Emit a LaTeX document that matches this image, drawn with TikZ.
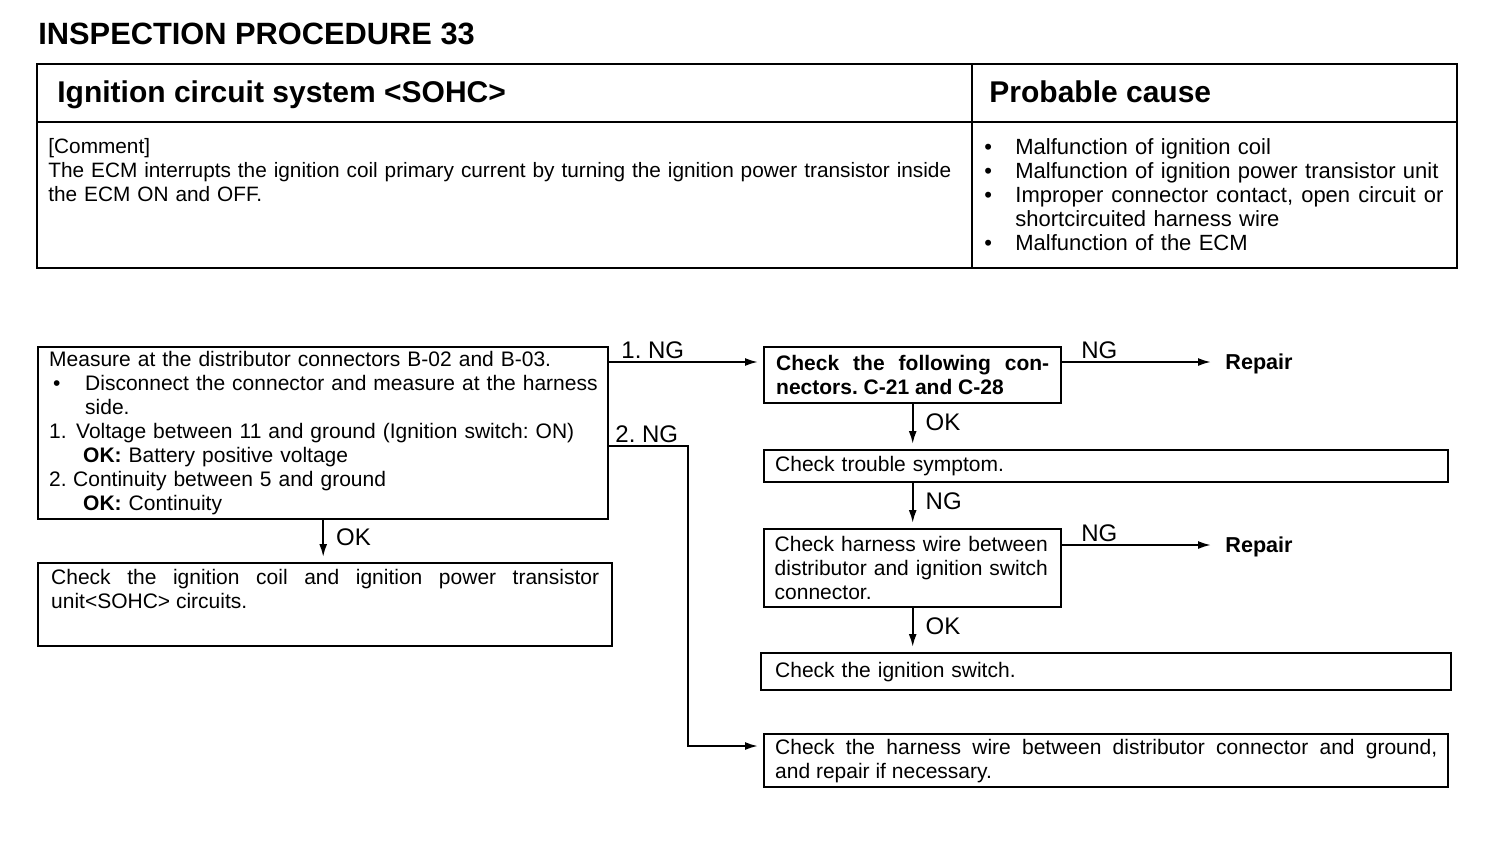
\documentclass[tikz,border=0pt]{standalone}
\usepackage{fontspec}
\setmainfont{Liberation Sans}
\usepackage{tikz}
\usetikzlibrary{
  arrows.meta,
  positioning
}
\definecolor{inkcolor}{RGB}{0, 0, 0}
\definecolor{papercolor}{RGB}{255, 255, 255}
\newcommand{\flowfont}{\fontsize{10.5}{12}\selectfont}
\newcommand{\notefont}{\fontsize{10.4}{12}\selectfont}
\newcommand{\causefont}{\fontsize{11}{12}\selectfont}
\newcommand{\causeitem}{\makebox[15.5pt][l]{\textbullet}}
\frenchspacing
\hyphenpenalty=10000
\tikzset{
titletext/.style={
  font=\fontsize{15.4}{18}\selectfont\bfseries,
  text=inkcolor,
  inner sep=0pt
},
headtext/.style={
  font=\fontsize{15}{18}\selectfont\bfseries,
  text=inkcolor,
  anchor=base west,
  inner sep=0pt
},
tableline/.style={
  draw=inkcolor,
  line width=1.4pt
},
notetext/.style={
  font=\notefont,
  text=inkcolor,
  align=left,
  inner sep=0pt
},
causetext/.style={
  font=\causefont,
  text=inkcolor,
  align=left,
  inner sep=0pt
},
flowbox/.style={
  draw=inkcolor,
  line width=1.2pt,
  anchor=north west,
  inner xsep=5.5pt,
  inner ysep=0pt,
  font=\flowfont,
  text=inkcolor,
  align=left
},
flowlabel/.style={
  font=\fontsize{12}{14}\selectfont,
  text=inkcolor,
  inner sep=1pt
},
repairtext/.style={
  font=\fontsize{10.8}{12}\selectfont\bfseries,
  text=inkcolor,
  anchor=west,
  text height=7.8pt,
  text depth=0pt,
  inner sep=0pt
},
flowarrow/.style={
  -{Latex[length=6.5pt,width=4pt]},
  line width=1pt,
  draw=inkcolor,
  shorten >=2.5pt
}
}

\begin{document}
\begin{tikzpicture}[x=0.5pt, y=-0.5pt]
  \fill[papercolor] (0,0) rectangle (1504,858);
  \useasboundingbox (0,0) rectangle (1504,858);

  \node[titletext, anchor=west] (proctitle) at (38,34) {INSPECTION PROCEDURE 33};

  % header table
  \draw[tableline] (37,64) rectangle (1457,268);
  \draw[tableline] (972,64) -- (972,268);
  \draw[tableline] (37,122) -- (1457,122);
  \node[headtext] (systitle) at (57,102) {Ignition circuit system <SOHC>};
  \node[headtext] (causetitle) at (989,102) {Probable cause};
  \node[notetext, anchor=north west, text width=462pt] (comment) at (48,138) {
    [Comment]\\
    The ECM interrupts the ignition coil primary current by turning the ignition power transistor inside\\
    the ECM ON and OFF.};
  \node[causetext, anchor=north west, text width=230pt] (causes) at (984,138) {
    \causeitem Malfunction of ignition coil\\
    \causeitem Malfunction of ignition power transistor unit\\
    \causeitem\hbox to 214pt{Improper\hfill connector\hfill contact,\hfill open\hfill circuit\hfill or}\\
    \hspace*{15.5pt}shortcircuited harness wire\\
    \causeitem Malfunction of the ECM};

  % flow chart boxes
  \node[flowbox, text width=274pt, minimum height=86pt] (measure) at (37,346) {
    Measure at the distributor connectors B-02 and B-03.\\
    \mbox{\makebox[18pt][l]{\hspace{2pt}\textbullet}Disconnect the connector and measure at the harness}\\
    \hspace*{18pt}side.\\
    \makebox[13.5pt][l]{1.}Voltage between 11 and ground (Ignition switch: ON)\\
    \hspace*{17pt}\textbf{OK:} Battery positive voltage\\
    \makebox[12pt][l]{2.}Continuity between 5 and ground\\
    \hspace*{17pt}\textbf{OK:} Continuity};
  \node[flowbox, text width=274pt, inner xsep=6.5pt, minimum height=41.5pt, align=justify] (coilcheck) at (37,562) {
    Check the ignition coil and ignition power transistor\linebreak
    unit<SOHC> circuits.\\\strut};
  \node[flowbox, text width=136.5pt, inner xsep=6pt, minimum height=28pt, align=justify,
    font=\flowfont\bfseries] (chkconn) at (763,346) {
    Check the following con-\linebreak nectors. C-21 and C-28};
  \node[flowbox, text width=331pt, minimum height=16pt] (symptom) at (763,449) {Check trouble symptom.};
  \node[flowbox, text width=138pt, inner xsep=5.25pt, minimum height=39pt] (harnessign) at (763,528) {
    Check harness wire between\\
    distributor and ignition switch\\
    connector.};
  \node[flowbox, text width=331pt, inner xsep=7pt, minimum height=18.5pt] (ignswitch) at (760,652) {Check the ignition switch.};
  \node[flowbox, text width=331pt, minimum height=26.5pt, align=justify] (harnessgnd) at (763,733) {
    Check the harness wire between distributor connector and ground,\linebreak
    and repair if necessary.};
  \node[repairtext] (repairone) at (1225,362) {Repair};
  \node[repairtext] (repairtwo) at (1225,545) {Repair};

  % connectors
  \draw[flowarrow] ([yshift=-8pt]measure.north east)
    -- node[flowlabel, above right, pos=0, xshift=4.5pt] (lblngone) {1. NG}
    ([yshift=-8pt]chkconn.north west);
  \draw[flowarrow] ([yshift=-50pt]measure.north east)
    -- node[flowlabel, above right, pos=0, xshift=1.5pt] (lblngtwo) {2. NG}
    ++(39.5pt,0) |- ([yshift=-6.5pt]harnessgnd.north west);
  \draw[flowarrow] (measure.south)
    -- node[flowlabel, right, pos=0.4, xshift=5pt] (lblokone) {OK}
    (measure.south |- coilcheck.north);
  \draw[flowarrow] (chkconn.south)
    -- node[flowlabel, right, pos=0.4, xshift=5pt] (lbloktwo) {OK}
    (chkconn.south |- symptom.north);
  \draw[flowarrow] (harnessign.north |- symptom.south)
    -- node[flowlabel, right, pos=0.4, xshift=5pt] (lblngthree) {NG}
    (harnessign.north);
  \draw[flowarrow] (harnessign.south)
    -- node[flowlabel, right, pos=0.4, xshift=5pt] (lblokthree) {OK}
    (harnessign.south |- ignswitch.north);
  \draw[flowarrow, shorten >=7pt] ([yshift=-8pt]chkconn.north east)
    -- node[flowlabel, above right, pos=0, xshift=8pt] (lblngfour) {NG}
    (repairone.west);
  \draw[flowarrow, shorten >=7pt] ([yshift=-8.5pt]harnessign.north east)
    -- node[flowlabel, above right, pos=0, xshift=8pt] (lblngfive) {NG}
    (repairtwo.west);
\end{tikzpicture}
\end{document}
